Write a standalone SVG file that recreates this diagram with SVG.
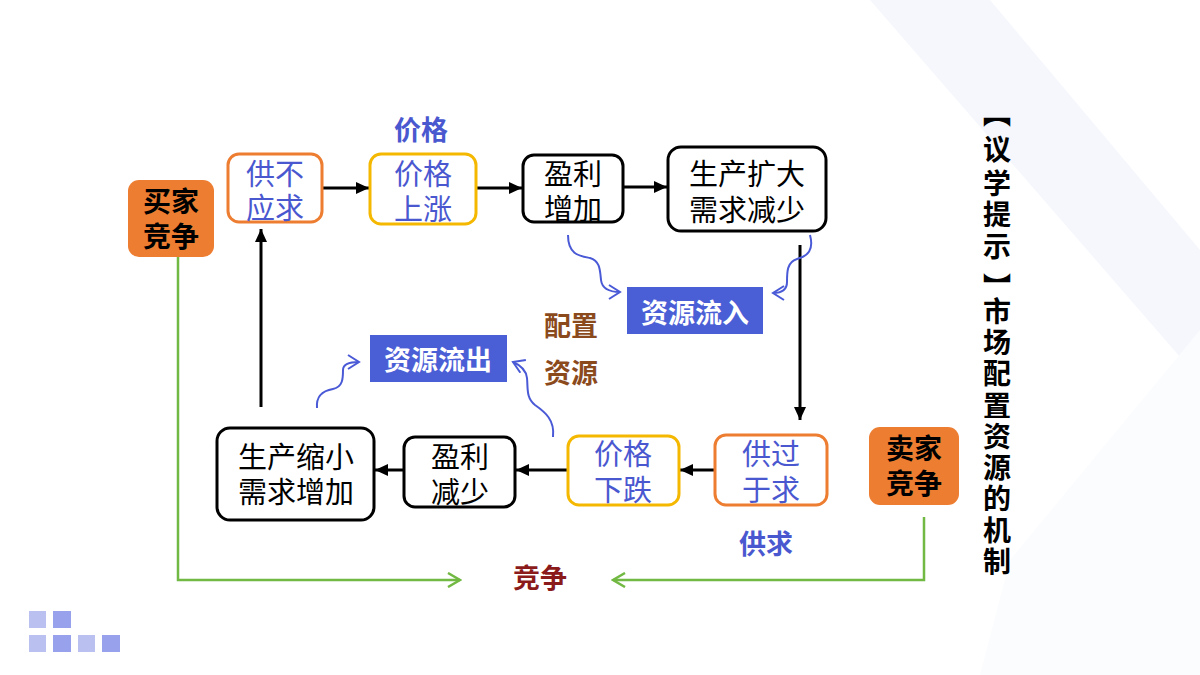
<svg xmlns="http://www.w3.org/2000/svg" width="1200" height="675" viewBox="0 0 1200 675">
<defs>
<style>
.t{font-family:"Noto Sans CJK SC","Noto Sans",sans-serif;text-anchor:middle;dominant-baseline:central}
.box{font-size:29px;font-weight:400}
.bl{fill:#4A58D0}
.bk{fill:#000}
.b{font-weight:700}
.v{font-size:28px;font-weight:700;fill:#000}
.ar{stroke:#000;stroke-width:3;fill:none}
.gr{stroke:#72B943;stroke-width:2.5;fill:none}
.wv{stroke:#4A5AD6;stroke-width:2;fill:none}
</style>
<marker id="ah" markerUnits="userSpaceOnUse" markerWidth="14" markerHeight="14" viewBox="0 0 14 14" refX="13" refY="7" orient="auto"><path d="M0,1 L13,7 L0,13 Z" fill="#000"/></marker>
<marker id="ag" markerUnits="userSpaceOnUse" markerWidth="16" markerHeight="16" viewBox="0 0 16 16" refX="14" refY="8" orient="auto"><path d="M2,1 L14,8 L2,15" fill="none" stroke="#72B943" stroke-width="2.5"/></marker>
<marker id="ab" markerUnits="userSpaceOnUse" markerWidth="16" markerHeight="16" viewBox="0 0 16 16" refX="14" refY="8" orient="auto"><path d="M3,1 L14,8 L3,15" fill="none" stroke="#4A5AD6" stroke-width="2"/></marker>
</defs>
<rect width="1200" height="675" fill="#fff"/>
<g id="background">
<polygon points="870,0 990,0 1200,250 1200,380" fill="#F5F7FC"/>
<polygon points="1010,560 1200,330 1200,675 980,675" fill="#FBFCFE"/>
<rect x="29" y="611" width="17" height="17" fill="#BAC1F1"/>
<rect x="53" y="611" width="18" height="17" fill="#97A1EC"/>
<rect x="29" y="635" width="17" height="17" fill="#BAC1F1"/>
<rect x="53" y="635" width="18" height="17" fill="#97A1EC"/>
<rect x="78" y="635" width="17" height="17" fill="#BAC1F1"/>
<rect x="102" y="635" width="18" height="17" fill="#97A1EC"/>
</g>
<g id="connectors">
<line class="ar" x1="322" y1="188" x2="369" y2="188" marker-end="url(#ah)"/>
<line class="ar" x1="476" y1="188" x2="522" y2="188" marker-end="url(#ah)"/>
<line class="ar" x1="623" y1="187" x2="667" y2="187" marker-end="url(#ah)"/>
<line class="ar" x1="800" y1="245" x2="800" y2="420" marker-end="url(#ah)"/>
<line class="ar" x1="715" y1="470" x2="680" y2="470" marker-end="url(#ah)"/>
<line class="ar" x1="567" y1="470" x2="516" y2="470" marker-end="url(#ah)"/>
<line class="ar" x1="404" y1="470" x2="375" y2="470" marker-end="url(#ah)"/>
<line class="ar" x1="261" y1="407" x2="261" y2="229" marker-end="url(#ah)"/>
<polyline class="gr" points="178,257 178,580 460,580" marker-end="url(#ag)"/>
<polyline class="gr" points="924,517 924,580 613,580" marker-end="url(#ag)"/>
<path class="wv" d="M568,235 C568,255 580,256 590,258 C600,261 600,270 601,280 C602,288 608,292 620,292" marker-end="url(#ab)"/>
<path class="wv" d="M810,235 C814,250 808,256 797,259 C787,262 787,272 787,282 C787,290 782,293 773,293" marker-end="url(#ab)"/>
<path class="wv" d="M317,408 C316,396 322,391 333,389 C343,387 343,378 343,370 C343,364 350,362 359,362" marker-end="url(#ab)"/>
<path class="wv" d="M553,437 C555,420 545,412 535,405 C526,398 528,388 527,378 C526,370 520,365 513,362" marker-end="url(#ab)"/>
</g>
<g id="buyer">
<rect x="128" y="180" width="86" height="77" rx="11" fill="#ED7D31"/>
<text class="t b bk" x="171" y="200" font-size="28">买家</text>
<text class="t b bk" x="171" y="235" font-size="28">竞争</text>
</g>
<g id="shortage">
<rect x="228" y="154" width="94" height="68" rx="11" fill="#fff" stroke="#ED7D31" stroke-width="3"/>
<text class="t box bl" x="275" y="172">供不</text>
<text class="t box bl" x="275" y="206">应求</text>
</g>
<g id="price-label">
<text class="t b bl" x="421" y="128" font-size="27">价格</text>
</g>
<g id="price-up">
<rect x="370" y="154" width="106" height="70" rx="11" fill="#fff" stroke="#F5B800" stroke-width="3"/>
<text class="t box bl" x="423" y="172">价格</text>
<text class="t box bl" x="423" y="207">上涨</text>
</g>
<g id="profit-up">
<rect x="523" y="155" width="100" height="67" rx="11" fill="#fff" stroke="#000" stroke-width="3"/>
<text class="t box bk" x="573" y="172">盈利</text>
<text class="t box bk" x="573" y="207">增加</text>
</g>
<g id="expand">
<rect x="668" y="147" width="158" height="84" rx="13" fill="#fff" stroke="#000" stroke-width="3"/>
<text class="t box bk" x="747" y="172">生产扩大</text>
<text class="t box bk" x="747" y="208">需求减少</text>
</g>
<g id="inflow">
<rect x="627" y="287" width="136" height="47" fill="#4A5ED6"/>
<text class="t b" x="695" y="311" font-size="27" fill="#fff">资源流入</text>
</g>
<g id="allocate">
<text class="t b" x="571" y="324" font-size="27" fill="#8B4A1C">配置</text>
<text class="t b" x="571" y="371" font-size="27" fill="#8B4A1C">资源</text>
</g>
<g id="outflow">
<rect x="370" y="335" width="137" height="47" fill="#4A5ED6"/>
<text class="t b" x="438" y="358" font-size="27" fill="#fff">资源流出</text>
</g>
<g id="surplus">
<rect x="715" y="435" width="112" height="70" rx="11" fill="#fff" stroke="#ED7D31" stroke-width="3"/>
<text class="t box bl" x="771" y="452">供过</text>
<text class="t box bl" x="771" y="488">于求</text>
</g>
<g id="price-down">
<rect x="568" y="436" width="111" height="69" rx="11" fill="#fff" stroke="#F5B800" stroke-width="3"/>
<text class="t box bl" x="623" y="452">价格</text>
<text class="t box bl" x="623" y="488">下跌</text>
</g>
<g id="profit-down">
<rect x="404" y="437" width="111" height="70" rx="11" fill="#fff" stroke="#000" stroke-width="3"/>
<text class="t box bk" x="460" y="455">盈利</text>
<text class="t box bk" x="460" y="490">减少</text>
</g>
<g id="shrink">
<rect x="217" y="428" width="157" height="92" rx="13" fill="#fff" stroke="#000" stroke-width="3"/>
<text class="t box bk" x="296" y="455">生产缩小</text>
<text class="t box bk" x="296" y="490">需求增加</text>
</g>
<g id="seller">
<rect x="869" y="427" width="90" height="78" rx="11" fill="#ED7D31"/>
<text class="t b bk" x="914" y="447" font-size="28">卖家</text>
<text class="t b bk" x="914" y="482" font-size="28">竞争</text>
</g>
<g id="supply-label">
<text class="t b bl" x="766" y="542" font-size="27">供求</text>
</g>
<g id="competition">
<text class="t b" x="540" y="576" font-size="27" fill="#8B1A1A">竞争</text>
</g>
<g id="title">
<text class="t v" x="997" y="112">︻</text>
<text class="t v" x="997" y="148">议</text>
<text class="t v" x="997" y="182">学</text>
<text class="t v" x="997" y="213">提</text>
<text class="t v" x="997" y="245">示</text>
<text class="t v" x="997" y="286">︼</text>
<text class="t v" x="997" y="310">市</text>
<text class="t v" x="997" y="341">场</text>
<text class="t v" x="997" y="372">配</text>
<text class="t v" x="997" y="404">置</text>
<text class="t v" x="997" y="435">资</text>
<text class="t v" x="997" y="466">源</text>
<text class="t v" x="997" y="497">的</text>
<text class="t v" x="997" y="529">机</text>
<text class="t v" x="997" y="560">制</text>
</g>
</svg>
